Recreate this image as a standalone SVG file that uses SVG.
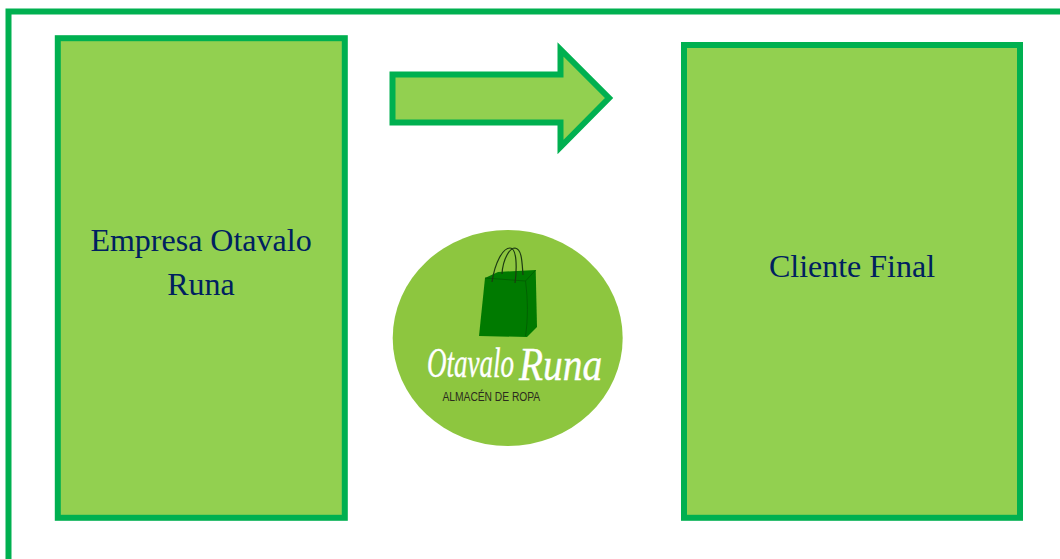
<svg xmlns="http://www.w3.org/2000/svg" width="1060" height="559" viewBox="0 0 1060 559">
<style>
.box{fill:#92d050;stroke:#00b050;stroke-width:6}
.lbl{font-family:"Liberation Serif","Times New Roman",serif;font-size:32px;fill:#002060;text-anchor:middle}
.script{font-family:"Liberation Serif",serif;font-style:italic;fill:#fff;stroke:#fff;stroke-width:.4}
.handle{fill:none;stroke:#1c3a12;stroke-width:1.2}
</style>
<rect width="1060" height="559" fill="#fff"/>
<path id="frame" d="M8.5 559V11.5H1060" fill="none" stroke="#00b050" stroke-width="6"/>
<g id="empresa">
<rect class="box" x="57.8" y="38.2" width="287" height="479.6"/>
<text class="lbl" x="201" y="251">Empresa Otavalo</text>
<text class="lbl" x="201" y="295">Runa</text>
</g>
<g id="connectors">
<polygon class="box" points="392.5,74.5 560.5,74.5 560.5,49.5 609,98 560.5,147 560.5,122.5 392.5,122.5"/>
</g>
<g id="cliente">
<rect class="box" x="684" y="45" width="336" height="472.8"/>
<text class="lbl" x="852" y="277">Cliente Final</text>
</g>
<g id="logo">
<ellipse cx="507.7" cy="338" rx="115" ry="108" fill="#8dc63f"/>
<polygon points="485,278 498,272 535.7,270 537,327 527,337 479,336" fill="#007a00"/>
<path d="M525.5 281 535.7 270M525.5 281 485 278M525.5 281C528 300 528 320 525.5 336" fill="none" stroke="#035a03" stroke-width=".8"/>
<path class="handle" d="M492 282C495 262 503 248 510 248C517 248 517 268 515 283"/>
<path class="handle" d="M502 274C503 258 510 248 515 248C522 249 522 262 523 275"/>
<text class="script" transform="translate(427 377) scale(.644 1)" font-size="42">Otavalo</text>
<text class="script" transform="translate(519 380) scale(.856 1)" font-size="46">Runa</text>
<text transform="translate(442.5 401) scale(.76 1)" font-family="'Liberation Sans',Arial,sans-serif" font-size="13.5" fill="#2b2b1e">ALMACÉN DE ROPA</text>
</g>
</svg>
